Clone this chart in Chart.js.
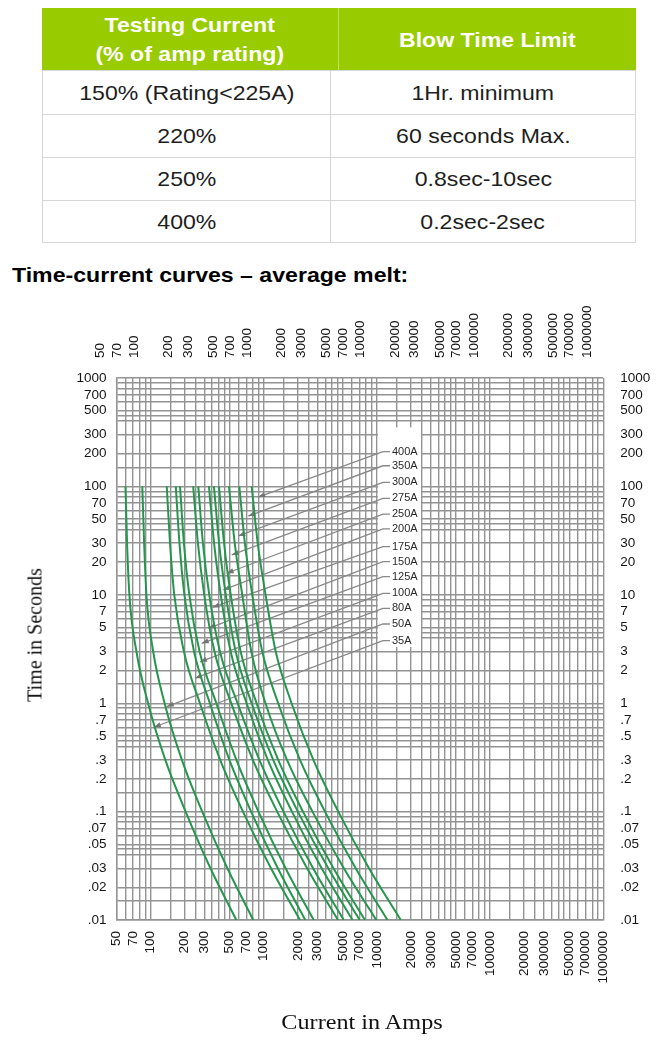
<!DOCTYPE html>
<html lang="en">
<head>
<meta charset="utf-8">
<title>Fuse blow time limits and time-current curves</title>
<script src="https://cdn.jsdelivr.net/npm/chart.js@4.4.1/dist/chart.umd.min.js"></script>
<style>
    html, body { margin: 0; padding: 0; background: #fff; }
    body { position: relative; width: 672px; height: 1057px; overflow: hidden; font-family: "Liberation Sans", Arial, sans-serif; }
    .hdr { position: absolute; top: 8px; height: 62px; background: #99cc00; color: #fff; font-weight: bold; font-size: 21px; line-height: 29px; display: flex; align-items: center; justify-content: center; text-align: center; }
    .hdr-split { position: absolute; left: 338px; top: 8px; width: 1px; height: 62px; background: rgba(255, 255, 255, 0.4); }
    .cell { position: absolute; box-sizing: border-box; border: 1px solid #d6d6d6; display: flex; align-items: center; justify-content: center; font-size: 21px; color: #1e1e1e; }
    .wide { display: inline-block; transform: scaleX(1.1); white-space: nowrap; }
    #heading { position: absolute; left: 12px; top: 262px; height: 26px; line-height: 26px; font-size: 21px; font-weight: bold; color: #000; transform: scaleX(1.1); transform-origin: left center; white-space: nowrap; }
    #chart { position: absolute; left: 0; top: 290px; }
    .axis-title { position: absolute; font-family: "Liberation Serif", "Times New Roman", serif; color: #111; white-space: nowrap; }
    #ytitle { left: 35px; top: 635px; font-size: 20px; transform: translate(-50%, -50%) rotate(-90deg); }
    #xtitle { left: 362px; top: 1022px; font-size: 22px; transform: translate(-50%, -50%) scaleX(1.1); }
</style>
</head>
<body>
<div class="hdr" style="left:42px;width:296px"><span class="wide">Testing Current<br>(% of amp rating)</span></div>
<div class="hdr" style="left:338px;width:298px"><span class="wide">Blow Time Limit</span></div>
<div class="hdr-split"></div>

<div class="cell" style="left:42px;width:289px;top:70px;height:45px"><span class="wide">150% (Rating&lt;225A)</span></div>
<div class="cell" style="left:330px;width:306px;top:70px;height:45px"><span class="wide">1Hr. minimum</span></div>
<div class="cell" style="left:42px;width:289px;top:114px;height:44px"><span class="wide">220%</span></div>
<div class="cell" style="left:330px;width:306px;top:114px;height:44px"><span class="wide">60 seconds Max.</span></div>
<div class="cell" style="left:42px;width:289px;top:157px;height:44px"><span class="wide">250%</span></div>
<div class="cell" style="left:330px;width:306px;top:157px;height:44px"><span class="wide">0.8sec-10sec</span></div>
<div class="cell" style="left:42px;width:289px;top:200px;height:43px"><span class="wide">400%</span></div>
<div class="cell" style="left:330px;width:306px;top:200px;height:43px"><span class="wide">0.2sec-2sec</span></div>

<div id="heading">Time-current curves – average melt:</div>

<canvas id="chart" width="672" height="767"></canvas>
<div class="axis-title" id="ytitle">Time in Seconds</div>
<div class="axis-title" id="xtitle">Current in Amps</div>

<script>
/* globals Chart:false */

// axis labels and grid
const currentTicks = [50, 70, 100, 200, 300, 500, 700, 1000, 2000, 3000, 5000, 7000, 10000,
    20000, 30000, 50000, 70000, 100000, 200000, 300000, 500000, 700000, 1000000]
const timeTicks = [1000, 700, 500, 300, 200, 100, 70, 50, 30, 20, 10, 7, 5, 3, 2, 1,
    0.7, 0.5, 0.3, 0.2, 0.1, 0.07, 0.05, 0.03, 0.02, 0.01]
const currentGridSteps = [1, 1.5, 2, 2.5, 3, 3.5, 4, 4.5, 5, 6, 7, 8, 9]
const timeGridSteps = [1, 1.5, 2, 3, 4, 4.5, 5, 6, 7, 8, 9]

// average melt curves: seconds vs amps, one array per fuse rating
const fuseRatings = ['35A', '50A', '80A', '100A', '125A', '150A', '175A', '200A', '250A', '275A', '300A', '350A', '400A']
const meltTimes = [100, 30, 10, 3, 1, 0.3, 0.1, 0.03, 0.01]
const amps35 = [60, 62, 65, 75, 95, 135, 204, 338, 572]
const amps50 = [84.5, 87.7, 91.9, 105.5, 133, 189, 286, 477, 808]
const amps80 = [139, 148.5, 162, 197, 273, 412, 655, 1158, 2089]
const amps100 = [167, 180, 199, 242, 334, 497, 773, 1331, 2327]
const amps125 = [182, 197, 220, 271, 381, 573, 898, 1559, 2761]
const amps150 = [238, 262, 298, 367, 516, 801, 1314, 2414, 4525]
const amps175 = [264, 290, 330, 410, 587, 915, 1494, 2727, 5093]
const amps200 = [328, 364, 417, 510, 705, 1086, 1775, 3248, 6080]
const amps250 = [363, 403, 462, 565, 781, 1211, 2002, 3715, 7035]
const amps275 = [402, 446, 511, 625, 864, 1341, 2221, 4130, 7835]
const amps300 = [493, 554, 646, 776, 1036, 1604, 2694, 5101, 9865]
const amps350 = [608, 681, 792, 970, 1341, 2089, 3475, 6488, 12387]
const amps400 = [782, 884, 1038, 1275, 1761, 2744, 4555, 8505, 16238]
const meltCurrents = [amps35, amps50, amps80, amps100, amps125, amps150, amps175,
    amps200, amps250, amps275, amps300, amps350, amps400]

// leader labels, top to bottom, with the point each arrow touches
const leaderLabels = ['400A', '350A', '300A', '275A', '250A', '200A', '175A', '150A', '125A', '100A', '80A', '50A', '35A']
const leaderLabelTimes = [209, 155, 109, 77.6, 55.6, 40.5, 27.8, 20.2, 14.7, 10.3, 7.51, 5.38, 3.77]
const arrowAmps = [894, 730, 596, 521, 470, 439, 352, 324, 283, 273, 247, 139, 107]
const arrowTimes = [79.8, 53.3, 34.9, 23.3, 15.8, 11.1, 7.64, 4.91, 3.57, 2.41, 1.70, 0.93, 0.60]

;(() => {
    'use strict'

    const tickFont = { family: '"Liberation Sans", Arial, sans-serif', size: 13.5 }
    const gridColor = '#939393'

    const gridValues = (steps, min, max) => {
        const out = []
        for (let e = -3; e <= 7; e++) {
            steps.forEach(s => {
                const v = +(s * Math.pow(10, e)).toPrecision(6)
                if (v >= min && v <= max) out.push(v)
            })
        }
        return out
    }
    const inList = (v, list) => list.some(l => Math.abs(v / l - 1) < 1e-6)
    const fmt = v => v < 1 ? String(v).replace(/^0/, '') : String(v)
    const setTicks = values => scale => { scale.ticks = values.map(v => ({ value: v })) }

    const leaders = {
        id: 'leaders',
        beforeDatasetsDraw(chart) {
            const { ctx, scales: { x, y } } = chart
            ctx.save()
            // blank panel behind the labels
            const bx0 = x.getPixelForValue(10200)
            const bx1 = x.getPixelForValue(24500)
            const by0 = y.getPixelForValue(350)
            const by1 = y.getPixelForValue(3.3)
            ctx.fillStyle = '#fff'
            ctx.fillRect(bx0, by0, bx1 - bx0, by1 - by0)

            const bend = x.getPixelForValue(11300)
            ctx.lineWidth = 1.3
            ctx.font = '11px "Liberation Sans", Arial, sans-serif'
            ctx.textBaseline = 'middle'
            leaderLabels.forEach((label, i) => {
                const ly = y.getPixelForValue(leaderLabelTimes[i])
                const tx = x.getPixelForValue(arrowAmps[i])
                const ty = y.getPixelForValue(arrowTimes[i])
                ctx.strokeStyle = '#888'
                ctx.beginPath()
                ctx.moveTo(bend + 7, ly)
                ctx.lineTo(bend, ly)
                ctx.lineTo(tx, ty)
                ctx.stroke()
                const a = Math.atan2(ty - ly, tx - bend)
                const c = Math.cos(a)
                const s = Math.sin(a)
                ctx.fillStyle = '#747474'
                ctx.beginPath()
                ctx.moveTo(tx, ty)
                ctx.lineTo(tx - 7 * c + 2.6 * s, ty - 7 * s - 2.6 * c)
                ctx.lineTo(tx - 7 * c - 2.6 * s, ty - 7 * s + 2.6 * c)
                ctx.closePath()
                ctx.fill()
                ctx.fillStyle = '#2a2a2a'
                ctx.fillText(label, bend + 9, ly)
            })
            ctx.restore()
        }
    }

    const ctx = document.getElementById('chart')
    // eslint-disable-next-line no-unused-vars
    const meltChart = new Chart(ctx, {
        type: 'line',
        data: {
            datasets: fuseRatings.map((rating, i) => ({
                label: rating,
                data: meltTimes.map((t, j) => ({ x: meltCurrents[i][j], y: t })),
                borderColor: '#26964f',
                borderWidth: 2,
                pointRadius: 0,
                cubicInterpolationMode: 'monotone',
                fill: false,
                xAxisID: 'x',
                yAxisID: 'y'
            }))
        },
        options: {
            responsive: false,
            devicePixelRatio: 1,
            animation: false,
            layout: { padding: 0 },
            plugins: {
                legend: { display: false },
                tooltip: { enabled: false }
            },
            scales: {
                x: {
                    type: 'logarithmic',
                    position: 'bottom',
                    min: 50,
                    max: 1000000,
                    afterBuildTicks: setTicks(gridValues(currentGridSteps, 50, 1000000)),
                    afterFit: scale => { scale.height = 137 },
                    grid: { color: gridColor, lineWidth: 1.4, drawTicks: false },
                    border: { color: gridColor, width: 1.4 },
                    ticks: {
                        autoSkip: false,
                        minRotation: 90,
                        maxRotation: 90,
                        padding: 11,
                        color: '#151515',
                        font: tickFont,
                        callback: v => inList(v, currentTicks) ? fmt(v) : ''
                    }
                },
                x2: {
                    type: 'logarithmic',
                    position: 'top',
                    min: 50,
                    max: 1000000,
                    afterBuildTicks: setTicks(currentTicks),
                    afterFit: scale => { scale.height = 88 },
                    grid: { display: false },
                    border: { display: false },
                    ticks: {
                        autoSkip: false,
                        minRotation: 90,
                        maxRotation: 90,
                        padding: 12,
                        color: '#151515',
                        font: tickFont,
                        callback: v => fmt(v)
                    }
                },
                y: {
                    type: 'logarithmic',
                    position: 'left',
                    min: 0.01,
                    max: 1000,
                    afterBuildTicks: setTicks(gridValues(timeGridSteps, 0.01, 1000)),
                    afterFit: scale => { scale.width = 116.5 },
                    grid: { color: gridColor, lineWidth: 1.4, drawTicks: false },
                    border: { color: gridColor, width: 1.4 },
                    ticks: {
                        autoSkip: false,
                        padding: 10,
                        color: '#151515',
                        font: tickFont,
                        callback: v => inList(v, timeTicks) ? fmt(v) : ''
                    }
                },
                y2: {
                    type: 'logarithmic',
                    position: 'right',
                    min: 0.01,
                    max: 1000,
                    afterBuildTicks: setTicks(timeTicks),
                    afterFit: scale => { scale.width = 68.7 },
                    grid: { display: false },
                    border: { display: false },
                    ticks: {
                        autoSkip: false,
                        padding: 9,
                        color: '#151515',
                        font: tickFont,
                        callback: v => fmt(v)
                    }
                }
            }
        },
        plugins: [leaders]
    })
})()
</script>
</body>
</html>
